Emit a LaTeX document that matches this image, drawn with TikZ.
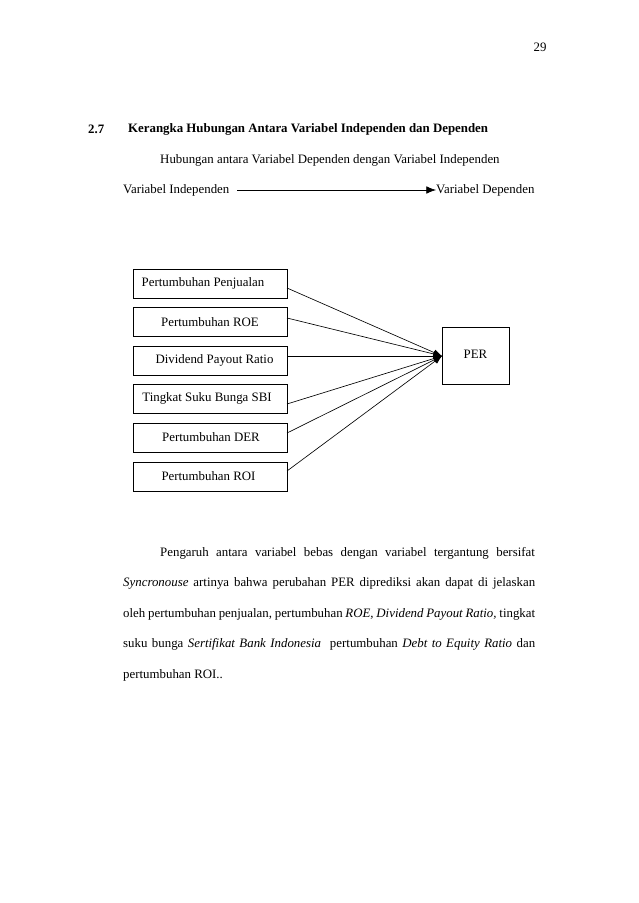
\documentclass[tikz,border=0pt]{standalone}
\usepackage{fontspec}
\setmainfont{Liberation Serif}
\usetikzlibrary{arrows.meta}
\begin{document}
\begin{tikzpicture}[x=0.9326pt,y=-0.9326pt,
  txt/.style={inner sep=0pt,font=\fontsize{12}{14}\selectfont},
  conn/.style={line width=0.6pt,-{Latex[length=8pt,width=6pt]}}]
\useasboundingbox[fill=white] (0,0) rectangle (638,903);
\node[txt] (pg) at (540,47) {29};
\node[txt,anchor=west,font=\fontsize{12}{14}\selectfont\bfseries] (num) at (88,129) {2.7};
\node[txt,anchor=west,font=\fontsize{12}{14}\selectfont\bfseries] (head) at (128,129) {Kerangka Hubungan Antara Variabel Independen dan Dependen};
\node[txt,anchor=west] (sub) at (160,160) {Hubungan antara Variabel Dependen dengan Variabel Independen};
\node[txt,anchor=west] (vi) at (123,190) {Variabel Independen};
\node[txt,anchor=west] (vd) at (436,190) {Variabel Dependen};
\coordinate (as) at (237,190);
\draw[conn,-{Latex[length=9pt,width=7pt]}] (as) -- (vd.west);
% boxes
\draw[line width=0.8pt] (133,269) rectangle (287,298);
\draw[line width=0.8pt] (133,307) rectangle (287,336);
\draw[line width=0.8pt] (133,346) rectangle (287,375);
\draw[line width=0.8pt] (133,384) rectangle (287,413);
\draw[line width=0.8pt] (133,423) rectangle (287,452);
\draw[line width=0.8pt] (133,462) rectangle (287,491);
\node[txt] (t1) at (203,283) {Pertumbuhan Penjualan};
\node[txt] (t2) at (210,322) {Pertumbuhan ROE};
\node[txt] (t3) at (214.5,360) {Dividend Payout Ratio};
\node[txt] (t4) at (207,398) {Tingkat Suku Bunga SBI};
\node[txt] (t5) at (211,437) {Pertumbuhan DER};
\node[txt] (t6) at (208.5,476) {Pertumbuhan ROI};
\coordinate (e1) at (287,288);
\coordinate (e2) at (287,318);
\coordinate (e3) at (287,356);
\coordinate (e4) at (287,404);
\coordinate (e5) at (287,433);
\coordinate (e6) at (287,471);
\draw[line width=0.8pt] (442,327) rectangle (509,384);
\node[txt] (per) at (475.5,354) {PER};
\coordinate (tip) at (442,356);
\foreach \i in {1,...,6} \draw[conn] (e\i) -- (tip);
% paragraph
\node[txt,anchor=west] (p1) at (160,553) {\makebox[349.4pt][s]{Pengaruh antara variabel bebas dengan variabel tergantung bersifat}};
\node[txt,anchor=west] (p2) at (123,583) {\makebox[384.2pt][s]{\textit{Syncronouse} artinya bahwa perubahan PER diprediksi akan dapat di jelaskan}};
\node[txt,anchor=west] (p3) at (123,614) {\makebox[384.2pt][s]{oleh pertumbuhan penjualan, pertumbuhan \textit{ROE, Dividend Payout Ratio,} tingkat}};
\node[txt,anchor=west] (p4) at (123,644) {\makebox[384.2pt][s]{suku bunga \textit{Sertifikat Bank Indonesia}\ \ pertumbuhan \textit{Debt to Equity Ratio} dan}};
\node[txt,anchor=west] (p5) at (123,675) {pertumbuhan ROI..};
\end{tikzpicture}
\end{document}
